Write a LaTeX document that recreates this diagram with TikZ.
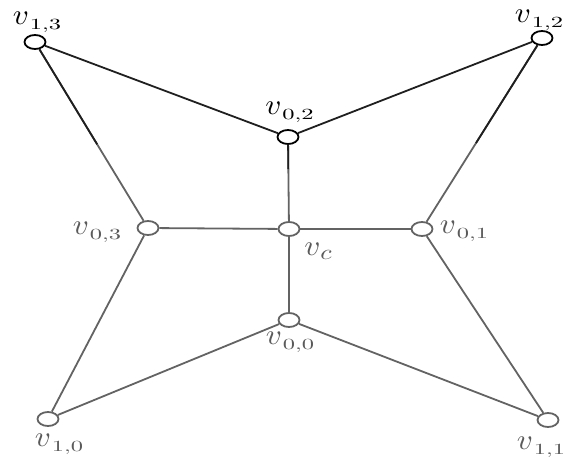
\documentclass[tikz,border=0pt]{standalone}
\usetikzlibrary{calc,shapes.geometric}
\definecolor{edgegray}{HTML}{636363}
\definecolor{labgray}{HTML}{5A5A5A}
\newcommand\vmain{\scalebox{3.1}[2.9]{$v$}}
\newcommand\vlab[2]{\vmain\hspace{1pt}\raisebox{-5pt}{\scalebox{2.45}[1.55]{$#1{,}#2$}}}
\tikzset{
  vert/.style={ellipse, draw, line width=1.8pt, minimum width=21pt, minimum height=14pt, inner sep=0pt, fill=white},
  topv/.style={vert, draw=black},
  lowv/.style={vert, draw=edgegray},
  topedge/.style={line width=1.8pt, draw=black!88},
  lowedge/.style={line width=1.8pt, draw=edgegray},
  toplab/.style={inner sep=0pt, text=black},
  lowlab/.style={inner sep=0pt, text=labgray},
}
\begin{document}
\begin{tikzpicture}[x=1pt,y=-1pt]
\useasboundingbox (0,0) rectangle (567,457);
% vertex positions
\coordinate (p13) at (35,42);
\coordinate (p12) at (542,38);
\coordinate (p02) at (288,137);
\coordinate (pc) at (289,229);
\coordinate (p03) at (148,228);
\coordinate (p01) at (422,229);
\coordinate (p00) at (289,320);
\coordinate (p10) at (48,419);
\coordinate (p11) at (548,420);
% vertices
\node[topv] (v13) at (p13) {};
\node[topv] (v12) at (p12) {};
\node[topv] (v02) at (p02) {};
\node[lowv] (vc) at (pc) {};
\node[lowv] (v03) at (p03) {};
\node[lowv] (v01) at (p01) {};
\node[lowv] (v00) at (p00) {};
\node[lowv] (v10) at (p10) {};
\node[lowv] (v11) at (p11) {};
% edges
\draw[topedge] (v13) -- (v02);
\draw[topedge] (v12) -- (v02);
\draw[lowedge] (v13) -- (v03);
\draw[lowedge] (v12) -- (v01);
\draw[lowedge] (v02) -- (vc);
\coordinate (m13) at ($(p13)!0.55!(p03)$);
\coordinate (m12) at ($(p12)!0.55!(p01)$);
\coordinate (m02) at ($(p02)!0.35!(pc)$);
\draw[topedge] (v13) -- (m13);
\draw[topedge] (v12) -- (m12);
\draw[topedge] (v02) -- (m02);
\draw[lowedge] (v03) -- (vc);
\draw[lowedge] (vc) -- (v01);
\draw[lowedge] (vc) -- (v00);
\draw[lowedge] (v03) -- (v10);
\draw[lowedge] (v01) -- (v11);
\draw[lowedge] (v00) -- (v10);
\draw[lowedge] (v00) -- (v11);
% labels
\node[toplab] (l13) at (37,22.5) {\vlab{1}{3}};
\node[toplab] (l12) at (539,20) {\vlab{1}{2}};
\node[toplab] (l02) at (289.5,112) {\vlab{0}{2}};
\node[lowlab] (lc) at (318,251) {\vmain\raisebox{-4pt}{\scalebox{2.6}[2.1]{$c$}}};
\node[lowlab] (l03) at (97,232) {\vlab{0}{3}};
\node[lowlab] (l01) at (464,231) {\vlab{0}{1}};
\node[lowlab] (l00) at (290,342) {\vlab{0}{0}};
\node[lowlab] (l10) at (59,444) {\vlab{1}{0}};
\node[lowlab] (l11) at (541,447) {\vlab{1}{1}};
\end{tikzpicture}
\end{document}
